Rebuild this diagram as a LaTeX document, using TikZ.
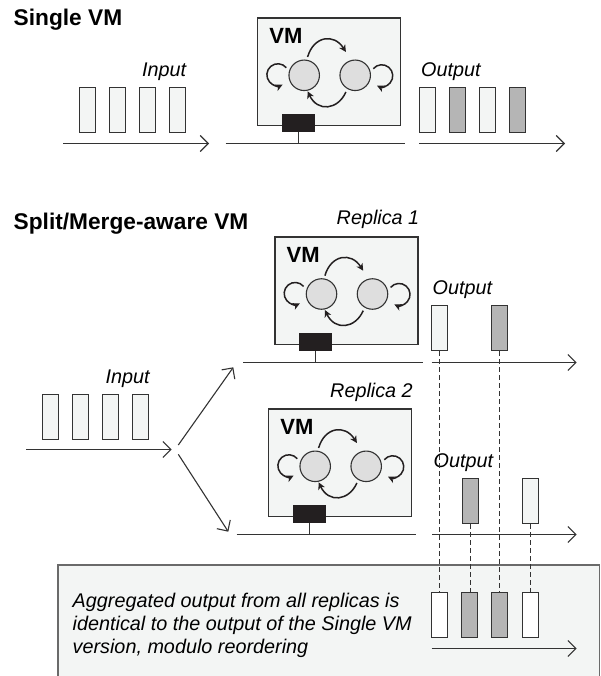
\documentclass[tikz,border=0pt]{standalone}
\usepackage{fontspec}
\setmainfont{Liberation Sans}
\usetikzlibrary{arrows.meta,calc}
\definecolor{pale}{HTML}{F3F5F4}
\definecolor{midgrey}{HTML}{B5B5B5}
\definecolor{cellgrey}{HTML}{DEDEDE}
\definecolor{ink}{HTML}{333333}
\definecolor{blk}{HTML}{231F20}
\definecolor{frame}{HTML}{6A6A6A}

% One virtual machine: box, label, two processes with their transitions,
% the network interface and the wire it sits on.
% #1 name prefix, (#2,#3) top-left corner of the box
\newcommand\vmunit[3]{%
  \node[vmbox] (#1box) at (#2,#3) {};
  \node[vmtext] (#1lbl) at (#2+12.5,#3+26.5) {VM};
  \node[proc] (#1p) at (#2+47.5,#3+58) {};
  \node[proc] (#1q) at (#2+98.5,#3+58) {};
  \node[nic] (#1nic) at (#2+25,#3+96.5) {};
  \coordinate (#1bl) at (#2-31,#3+126.5);
  \coordinate (#1br) at (#2+148.5,#3+126.5);
  \draw[vmarrow] ([shift={(3.4,-18.3)}]#1p.center)
      .. controls +(6,-21) and +(-12,-19) .. ([shift={(-9.3,-23.3)}]#1q.center);
  \draw[vmarrow] ([shift={(-9.3,16.7)}]#1q.center)
      .. controls +(-8,18) and +(10,21) .. ([shift={(3.4,16)}]#1p.center);
  \draw[vmarrow] ([shift={(-17.9,-7.6)}]#1p.center)
      arc[start angle=-40, end angle=-295, radius=11];
  \draw[vmarrow] ([shift={(18.1,-6.6)}]#1q.center)
      arc[start angle=-140, end angle=115, radius=11];
  \draw[bus] (#1bl) -- (#1br);
  \draw[bus] (#1nic.south) -- (#1nic.south |- #1bl);
}

\begin{document}
\begin{tikzpicture}[x=1pt,y=-1pt,
  pkt/.style={draw=ink, line width=1.2pt, minimum width=16pt,
    minimum height=45pt, inner sep=0pt, fill=pale},
  pktgrey/.style={pkt, fill=midgrey},
  pktwhite/.style={pkt, fill=white},
  vmbox/.style={draw=ink, line width=1.5pt, fill=pale, minimum width=143pt,
    minimum height=107.5pt, inner sep=0pt, anchor=north west},
  proc/.style={circle, draw=ink, line width=1.1pt, fill=cellgrey,
    minimum size=30.5pt, inner sep=0pt},
  nic/.style={fill=blk, minimum width=33pt, minimum height=18pt,
    inner sep=0pt, anchor=north west},
  flow/.style={draw=ink, line width=1.1pt,
    -{Straight Barb[length=8pt,width=16pt,line width=1.1pt]}},
  bus/.style={draw=ink, line width=1.3pt},
  vmarrow/.style={draw=blk, line width=1.5pt,
    -{Stealth[length=7pt,width=7pt,inset=2pt]}},
  trace/.style={draw=ink, line width=1pt, dash pattern=on 4.5pt off 3.5pt},
  heading/.style={font=\fontsize{22.7}{27}\selectfont\bfseries,
    anchor=base west, inner sep=0pt},
  itext/.style={font=\fontsize{19.8}{23}\selectfont\itshape,
    anchor=base west, inner sep=0pt},
  vmtext/.style={font=\fontsize{22}{26}\selectfont\bfseries,
    anchor=base west, inner sep=0pt},
]
\clip (0,0) rectangle (600,676);
\fill[white] (0,0) rectangle (600,676);

% ---------------- single VM ----------------
\node[heading] (t1) at (13.5,26) {Single VM};

\node[itext] (in1) at (142,77) {Input};
\foreach \i/\x in {1/87.5,2/117.5,3/147.5,4/177.5}
  \node[pkt] (a\i) at (\x,110) {};
\coordinate (a0s) at (63,143.5);
\coordinate (a0e) at (209,143.5);
\draw[flow] (a0s) -- (a0e);

\vmunit{s}{256.7}{17.3}

\node[itext] (out1) at (421,77) {Output};
\node[pkt]     (b1) at (427.5,110) {};
\node[pktgrey] (b2) at (457.5,110) {};
\node[pkt]     (b3) at (487.5,110) {};
\node[pktgrey] (b4) at (517.5,110) {};
\coordinate (b0s) at (419,143.5);
\coordinate (b0e) at (565,143.5);
\draw[flow] (b0s) -- (b0e);

% ---------------- split/merge-aware VM ----------------
\node[heading] (t2) at (13.5,229.3) {Split/Merge-aware VM};

\node[itext] (in2) at (105.5,383) {Input};
\foreach \i/\x in {1/50.5,2/80.5,3/110.5,4/140.5}
  \node[pkt] (c\i) at (\x,417) {};
\coordinate (c0s) at (26,449.5);
\coordinate (c0e) at (171.7,449.5);
\draw[flow] (c0s) -- (c0e);
\coordinate (fork1) at (178.3,445);
\coordinate (fork2) at (178.3,454.3);
\coordinate (up) at (233.3,367.3);
\coordinate (down) at (228.3,531.7);
\draw[flow] (fork1) -- (up);
\draw[flow] (fork2) -- (down);

% replica 1
\node[itext] (rep1) at (336.5,224) {Replica 1};
\vmunit{r}{274}{236}
\node[itext] (out2) at (432.5,294.3) {Output};
\node[pkt]     (d1) at (439.5,328) {};
\node[pktgrey] (d2) at (499.5,328) {};
\coordinate (d0s) at (431.5,362.5);
\coordinate (d0e) at (576.7,362.5);
\draw[flow] (d0s) -- (d0e);

% replica 2
\node[itext] (rep2) at (330,397) {Replica 2};
\vmunit{u}{267.7}{408.3}
\node[itext] (out3) at (433.5,467.5) {Output};
\node[pktgrey] (e1) at (470.5,501) {};
\node[pkt]     (e2) at (530.5,501) {};
\coordinate (e0s) at (432.3,534.5);
\coordinate (e0e) at (576.7,534.5);
\draw[flow] (e0s) -- (e0e);

% ---------------- merged result ----------------
\node[draw=frame, line width=1.5pt, fill=pale, anchor=north west,
  minimum width=541.5pt, minimum height=130pt, inner sep=0pt]
  (agg) at (57.3,564.3) {};
\node[itext, anchor=north west, align=left] (note) at (72.5,593)
  {Aggregated output from all replicas is\\
   identical to the output of the Single VM\\
   version, modulo reordering};

\node[pktwhite] (f1) at (439.5,615) {};
\node[pktgrey]  (f2) at (469.5,615) {};
\node[pktgrey]  (f3) at (499.5,615) {};
\node[pktwhite] (f4) at (530.5,615) {};
\coordinate (f0s) at (431.7,648.5);
\coordinate (f0e) at (576.7,648.5);
\draw[flow] (f0s) -- (f0e);

% where each merged packet comes from
\draw[trace] (d1.south) -- (d1.south |- f1.north);
\draw[trace] (e1.south) -- (e1.south |- f2.north);
\draw[trace] (d2.south) -- (d2.south |- f3.north);
\draw[trace] (e2.south) -- (e2.south |- f4.north);
\end{tikzpicture}
\end{document}
